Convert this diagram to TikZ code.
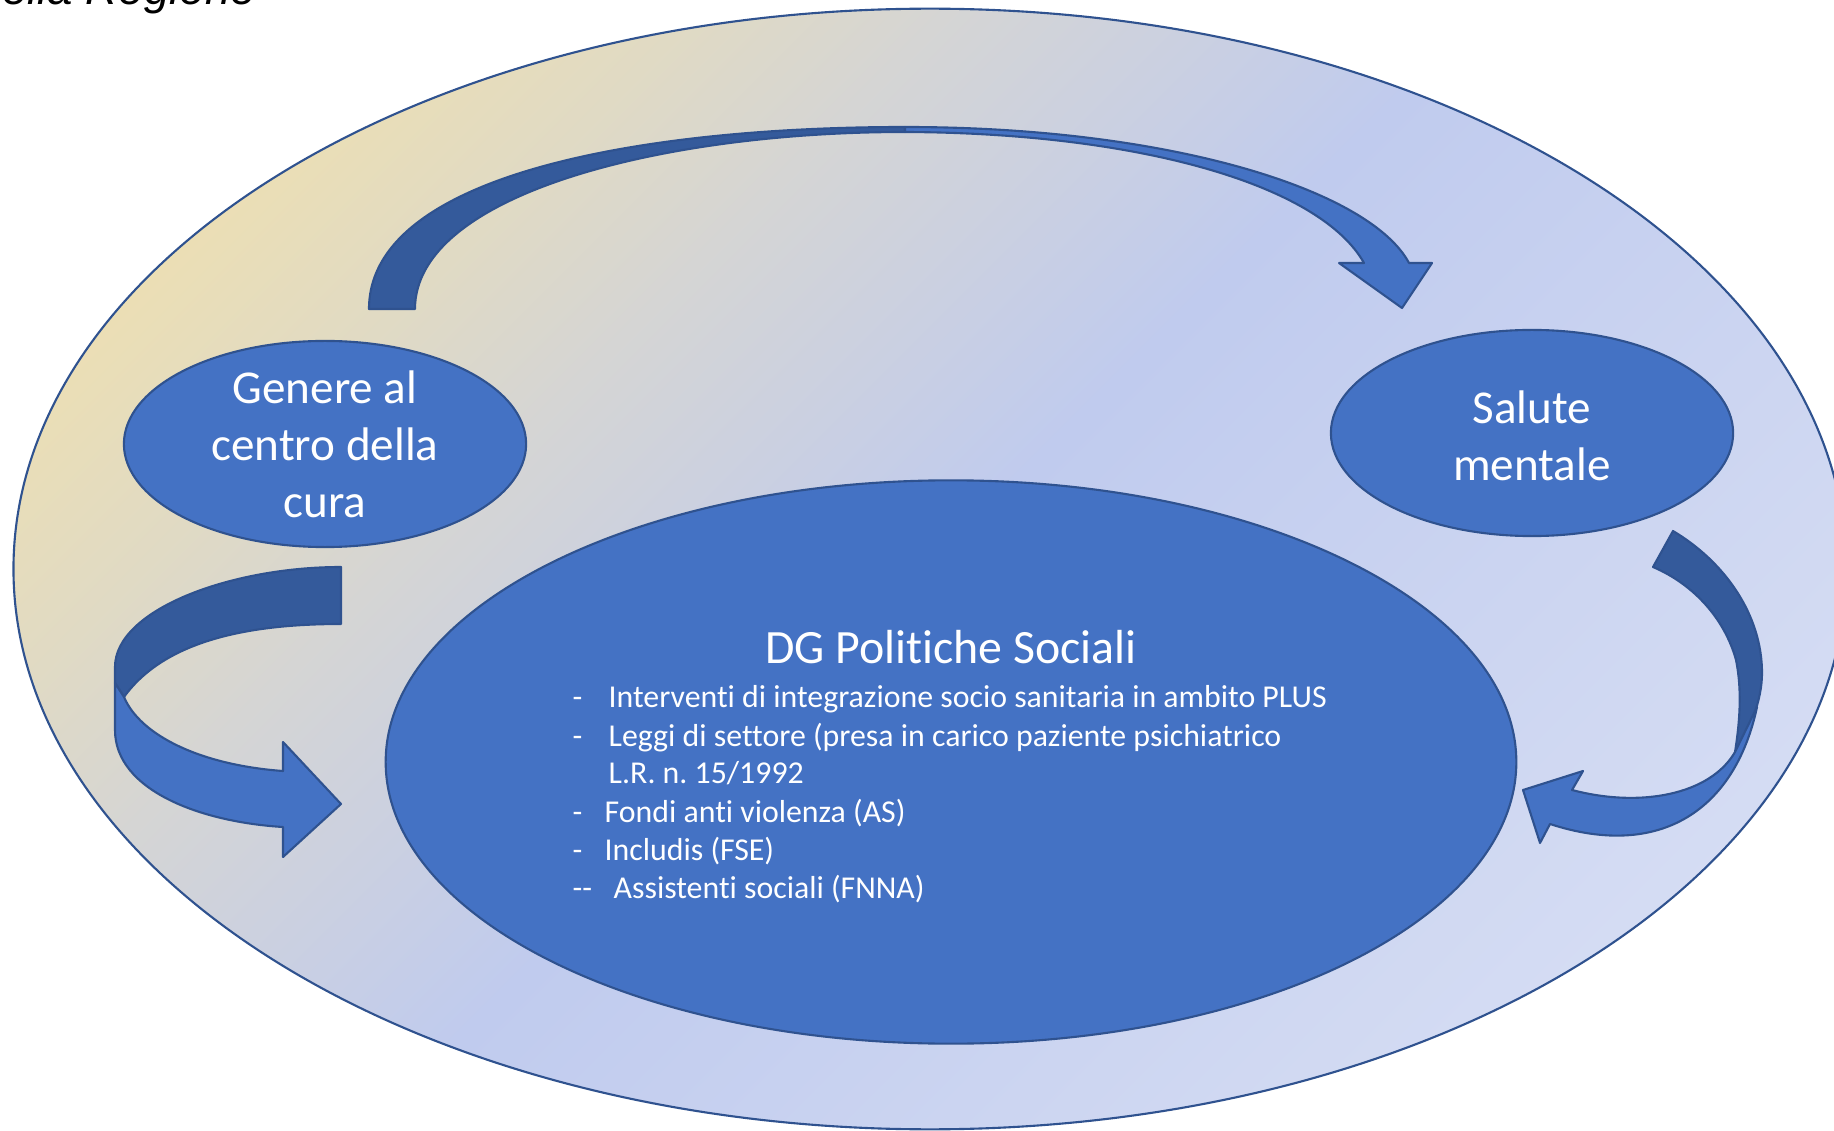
\documentclass[tikz,border=0pt]{standalone}
\usepackage{fontspec}
\setmainfont[Ligatures=NoCommon]{Carlito}
\newfontfamily\arialfont{Liberation Sans}
\usepackage{tikz}
\usetikzlibrary{shapes.geometric}
\frenchspacing

\definecolor{accblue}{HTML}{4472C4}
\definecolor{edgeblue}{HTML}{2F528F}
\definecolor{darkblue}{HTML}{345A9B}
\definecolor{beigeA}{HTML}{EFE0B0}
\definecolor{beigeB}{HTML}{E0DAC4}
\definecolor{greyA}{HTML}{D5D5D4}
\definecolor{blueA}{HTML}{C0CBEE}
\definecolor{blueB}{HTML}{D8DFF4}

\pgfdeclarehorizontalshading{regionshade}{100bp}{color(0bp)=(beigeA); color(22bp)=(beigeA); color(31bp)=(beigeB); color(37bp)=(greyA); color(50bp)=(blueA); color(80bp)=(blueB); color(100bp)=(blueB)}

\tikzset{
	bubble/.style={ellipse, draw=edgeblue, fill=accblue, line width=0.6pt, inner sep=0pt},
	bubbletext/.style={text=white, align=center, inner sep=0pt, font=\fontsize{13.4}{16.2}\selectfont},
	itemtext/.style={text=white, inner sep=0pt, anchor=base west, font=\fontsize{9.05}{10.9}\selectfont},
	arrowlight/.style={fill=accblue, draw=edgeblue, line width=0.6pt, line join=round},
	arrowdark/.style={fill=darkblue, draw=edgeblue, line width=0.6pt, line join=round}
}

\begin{document}
\begin{tikzpicture}[x=0.01cm, y=-0.01cm]
		\useasboundingbox (0,0) rectangle (1834,1131);
		\clip (0,0) rectangle (1834,1131);

		% outer region
		\draw (930,569) node[ellipse, shade, shading=regionshade, shading angle=-45, draw=edgeblue, line width=0.6pt, minimum width=18.32cm, minimum height=11.2cm] (regione) {};
		\draw (257,5) node[anchor=base east, inner sep=0pt, font=\arialfont\itshape\fontsize{13}{15}\selectfont] (titolo) {ella Regione};

		% top arrow
		\fill[arrowdark] (369,309) .. controls (369,175) and (640,127) .. (905,127) -- (905,132) .. controls (660,132) and (415,195) .. (415,309) -- cycle;
		\fill[arrowlight] (905,127) .. controls (1170,127) and (1370,190) .. (1409,263) -- (1432,263) -- (1402,308) -- (1339,263) -- (1364,263) .. controls (1320,185) and (1140,133) .. (905,132) -- cycle;

		% left arrow
		\fill[arrowdark] (341,567) .. controls (230,567) and (115,610) .. (115,667) -- (115,683) -- (124,697) .. controls (165,640) and (250,624) .. (341,624) -- cycle;
		\fill[arrowlight] (115,683) -- (115,730) .. controls (115,790) and (200,822) .. (283,827) -- (283,857) -- (341,804) -- (283,742) -- (283,771) .. controls (200,765) and (140,735) .. (124,697) -- cycle;

		% right arrow
		\fill[arrowdark] (1673,531) .. controls (1725,562) and (1762,615) .. (1762,673) .. controls (1762,700) and (1750,730) .. (1735,752) .. controls (1740,720) and (1742,690) .. (1736,660) .. controls (1725,620) and (1695,585) .. (1653,567) -- cycle;
		\fill[arrowlight] (1572,790) .. controls (1640,808) and (1710,795) .. (1735,752) -- (1757,707) .. controls (1735,810) and (1660,860) .. (1550,824) -- (1540,843) -- (1523,790) -- (1583,771) -- cycle;

		% bubbles
		\draw (325,444) node[bubble, minimum width=4.02cm, minimum height=2.06cm] (genere) {};
		\draw (1532,433) node[bubble, minimum width=4.02cm, minimum height=2.06cm] (salute) {};
		\draw (951,762) node[bubble, minimum width=11.3cm, minimum height=5.63cm] (dgps) {};

		\draw (genere) node[bubbletext] (genere-txt) {Genere al\\centro della\\cura};
		\draw (1532,436) node[bubbletext] (salute-txt) {Salute\\mentale};

		\draw (951,663) node[text=white, inner sep=0pt, anchor=base, font=\fontsize{13.6}{16}\selectfont] (dgps-txt) {DG Politiche Sociali};
		\draw (572,707) node[itemtext] (item1) {\makebox[0.36cm][l]{-}Interventi di integrazione socio sanitaria in ambito PLUS};
		\draw (572,746) node[itemtext] (item2) {\makebox[0.36cm][l]{-}Leggi di settore (presa in carico paziente psichiatrico};
		\draw (608,783) node[itemtext] (item2b) {L.R. n. 15/1992};
		\draw (572,822) node[itemtext] (item3) {\makebox[0.32cm][l]{-}Fondi anti violenza (AS)};
		\draw (572,860) node[itemtext] (item4) {\makebox[0.32cm][l]{-}Includis (FSE)};
		\draw (572,898) node[itemtext] (item5) {\makebox[0.41cm][l]{-{}-}Assistenti sociali (FNNA)};

	\end{tikzpicture}
\end{document}
